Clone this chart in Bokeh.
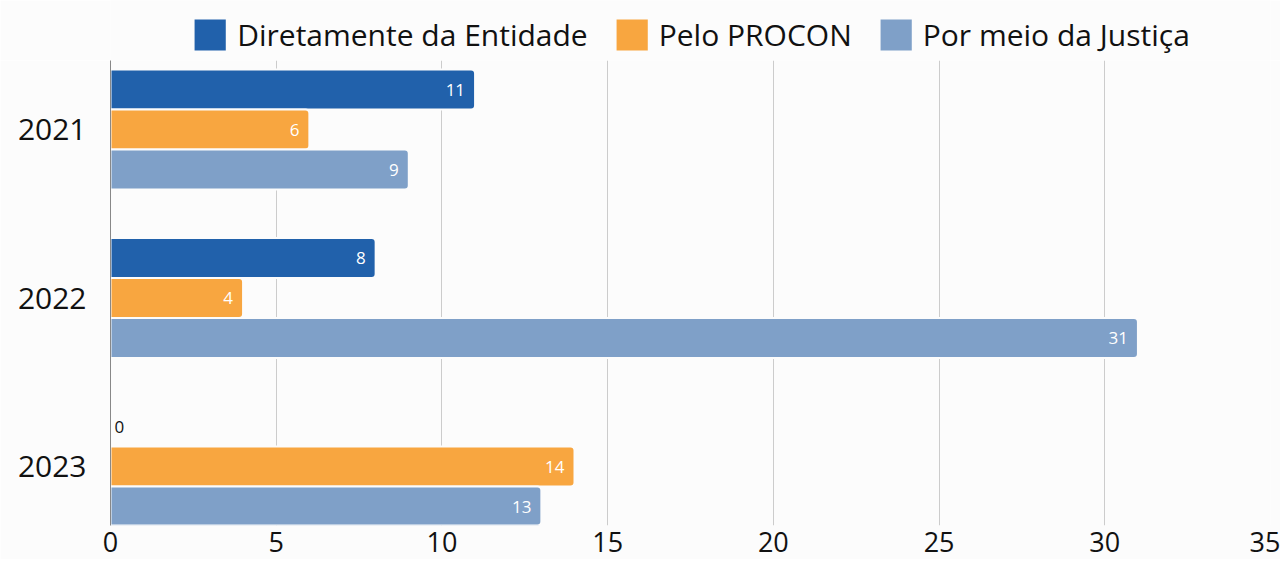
from bokeh.plotting import figure
from bokeh.models import ColumnDataSource, Range1d, FixedTicker, Legend, LegendItem
from bokeh.layouts import column
from bokeh.embed import file_html
from bokeh.resources import INLINE
from bokeh.core.properties import value

years = ["2021", "2022", "2023"]
series = ["Diretamente da Entidade", "Pelo PROCON", "Por meio da Justiça"]
diretamente = [11, 8, 0]
procon = [6, 4, 14]
justica = [9, 31, 13]
x_ticks = [0, 5, 10, 15, 20, 25, 30, 35]

colors = ["#2161AB", "#F8A640", "#7FA0C8"]
FONT = "Open Sans"
BG = "#fcfcfc"

# ---- main chart ----
p = figure(width=1280, height=499, output_backend="svg", toolbar_location=None,
           x_range=Range1d(0, 35), y_range=Range1d(2.350, -0.4095),
           min_border_left=110, min_border_right=10, min_border_top=0,
           min_border_bottom=34)
p.background_fill_color = BG
p.border_fill_color = BG
p.outline_line_color = None

bar_h = 40 / 168.5
offsets = [-bar_h, 0, bar_h]
for k, (name, vals) in enumerate(zip(series, [diretamente, procon, justica])):
    ys = [i + offsets[k] for i in range(len(years))]
    src = ColumnDataSource(dict(
        y=ys, v=vals, label=[str(v) for v in vals],
        xo=[-10 if v > 0 else 4 for v in vals],
        align=["right" if v > 0 else "left" for v in vals],
        tc=["white" if v > 0 else "#111111" for v in vals],
    ))
    p.hbar(y="y", right="v", left=0, height=bar_h, source=src,
           fill_color=colors[k], line_color=BG, line_width=2,
           border_radius=(0, 4, 4, 0))
    p.text(x="v", y="y", text="label", x_offset="xo", text_align="align",
           text_color="tc", text_baseline="middle", source=src,
           text_font=value(FONT), text_font_size="17px")

p.xaxis.ticker = FixedTicker(ticks=x_ticks)
p.xaxis.axis_line_color = None
p.xaxis.major_tick_line_color = None
p.xaxis.minor_tick_line_color = None
p.xaxis.major_label_text_font = FONT
p.xaxis.major_label_text_font_size = "27px"
p.xaxis.major_label_text_color = "#111111"
p.xaxis.major_label_standoff = 0

p.yaxis.ticker = FixedTicker(ticks=list(range(len(years))))
p.yaxis.major_label_overrides = {i: y for i, y in enumerate(years)}
p.yaxis.axis_line_color = "#888888"
p.yaxis.major_tick_line_color = None
p.yaxis.minor_tick_line_color = None
p.yaxis.major_label_text_font = FONT
p.yaxis.major_label_text_font_size = "30px"
p.yaxis.major_label_text_color = "#111111"
p.yaxis.major_label_standoff = 18

p.xgrid.grid_line_color = "#cccccc"
p.ygrid.grid_line_color = None

# ---- legend strip ----
lg = figure(width=1280, height=60, output_backend="svg", toolbar_location=None,
            x_axis_type=None, y_axis_type=None,
            x_range=Range1d(10, 11), y_range=Range1d(10, 11),
            min_border_left=0, min_border_right=0, min_border_top=0,
            min_border_bottom=0)
lg.background_fill_color = BG
lg.border_fill_color = BG
lg.outline_line_color = None
lg.xgrid.grid_line_color = None
lg.ygrid.grid_line_color = None
items = []
for k, name in enumerate(series):
    # off-screen proxy so that the legend can draw its swatch
    r = lg.hbar(y=[0], right=[1], left=0, height=1, fill_color=colors[k],
                line_color=None)
    items.append(LegendItem(label=name, renderers=[r]))
legend = Legend(items=items, orientation="horizontal", location="bottom_center",
                glyph_width=39, glyph_height=39, label_standoff=8, spacing=24,
                padding=0, margin=5, border_line_alpha=0, background_fill_alpha=0,
                label_text_font=FONT, label_text_font_size="30px",
                label_text_color="#111111", label_height=39)
lg.add_layout(legend, "center")

layout = column(lg, p, spacing=0)
open("out.html", "w").write(file_html(layout, INLINE))
